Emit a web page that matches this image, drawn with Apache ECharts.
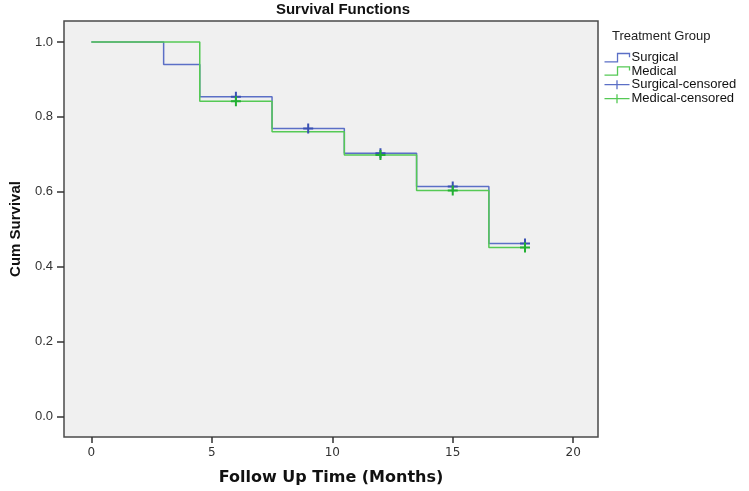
<!DOCTYPE html>
<html>
<head>
<meta charset="utf-8">
<script src="https://cdn.jsdelivr.net/npm/echarts@6/dist/echarts.min.js"></script>
<style>
html,body{margin:0;padding:0;background:#fff;}
#chart{width:749px;height:491px;}
</style>
</head>
<body>
<div id="chart"></div>
<script>
// Step data: [time, cumulative survival]
var surgicalTimes = [0, 3, 4.5, 7.5, 10.5, 13.5, 16.5, 18];
var surgicalSurv  = [1.0, 0.94, 0.854, 0.769, 0.703, 0.614, 0.462, 0.462];
var medicalTimes  = [0, 4.5, 7.5, 10.5, 13.5, 16.5, 18];
var medicalSurv   = [1.0, 0.842, 0.760, 0.698, 0.603, 0.451, 0.451];
var surgicalCensTimes = [6, 9, 12, 15, 18];
var surgicalCensSurv  = [0.854, 0.769, 0.703, 0.614, 0.462];
var medicalCensTimes  = [6, 12, 15, 18];
var medicalCensSurv   = [0.842, 0.698, 0.603, 0.451];
var xTicks = [0, 5, 10, 15, 20];
var yTicks = [0, 0.2, 0.4, 0.6, 0.8, 1.0];

function pairs(a, b) { return a.map(function (v, i) { return [v, b[i]]; }); }

var BLUE = '#5b6fc6', GREEN = '#55c955';
var BLUE_D = '#3a51b3', GREEN_D = '#22b032';
var stepIcon = 'path://M0,8L12.5,8L12.5,0L24,0L24,3.5';
var crossIcon = 'path://M0,4.5L25,4.5M12.5,0L12.5,9';
var crossSym = 'path://M0,5L10,5M5,0L5,10';

var chart = echarts.init(document.getElementById('chart'), null, {renderer: 'canvas'});
chart.setOption({
  animation: false,
  backgroundColor: '#ffffff',
  title: [{
    text: 'Survival Functions',
    left: 343, top: 2, textAlign: 'center', padding: 0,
    textStyle: {fontFamily: 'Liberation Sans', fontWeight: 'bold', fontSize: 15, color: '#111'}
  }, {
    text: 'Treatment Group',
    left: 612, top: 30, padding: 0,
    textStyle: {fontFamily: 'Liberation Sans', fontWeight: 'normal', fontSize: 13, color: '#222'}
  }],
  legend: {
    orient: 'vertical', left: 602, top: 51, padding: 0,
    itemWidth: 25, itemHeight: 9, itemGap: 0,
    textStyle: {fontFamily: 'Liberation Sans', fontSize: 13, color: '#111', padding: [0, 0, 0, -3]},
    data: [
      {name: 'Surgical', icon: stepIcon, itemStyle: {color: 'none', borderColor: BLUE, borderWidth: 1.3}},
      {name: 'Medical', icon: stepIcon, itemStyle: {color: 'none', borderColor: GREEN, borderWidth: 1.3}},
      {name: 'Surgical-censored', icon: crossIcon, itemStyle: {color: 'none', borderColor: BLUE, borderWidth: 1.3}},
      {name: 'Medical-censored', icon: crossIcon, itemStyle: {color: 'none', borderColor: GREEN, borderWidth: 1.3}}
    ]
  },
  grid: {
    left: 61.5, right: 151, top: 21, bottom: 49,
    show: true, backgroundColor: '#f0f0f0', borderColor: '#4a4a4a', borderWidth: 1.5
  },
  xAxis: {
    type: 'value', min: -1.136, max: 21.03,
    name: 'Follow Up Time (Months)', nameLocation: 'middle', nameGap: 33,
    nameTextStyle: {fontFamily: 'DejaVu Sans', fontWeight: 'bold', fontSize: 16, color: '#111'},
    axisLine: {show: false, onZero: false},
    axisTick: {show: true, length: 6, inside: false, customValues: xTicks, lineStyle: {color: '#333', width: 1.5}},
    axisLabel: {margin: 10, customValues: xTicks, fontFamily: 'DejaVu Sans', fontSize: 12, color: '#333'},
    splitLine: {show: false}
  },
  yAxis: {
    type: 'value', min: -0.055, max: 1.056,
    name: 'Cum Survival', nameLocation: 'middle', nameGap: 41,
    nameTextStyle: {fontFamily: 'Liberation Sans', fontWeight: 'bold', fontSize: 15, color: '#111'},
    axisLine: {show: false, onZero: false},
    axisTick: {show: true, length: 7, inside: false, customValues: yTicks, lineStyle: {color: '#333', width: 1.5}},
    axisLabel: {margin: 11, customValues: yTicks, fontFamily: 'Liberation Sans', fontSize: 13, color: '#333',
      formatter: function (v) { return v.toFixed(1); }},
    splitLine: {show: false}
  },
  series: [
    {name: 'Surgical', type: 'line', step: 'end', data: pairs(surgicalTimes, surgicalSurv),
     showSymbol: false, symbol: 'none', lineStyle: {color: BLUE, width: 1.5}, itemStyle: {color: BLUE}, z: 2},
    {name: 'Medical', type: 'line', step: 'end', data: pairs(medicalTimes, medicalSurv),
     showSymbol: false, symbol: 'none', lineStyle: {color: GREEN, width: 1.5}, itemStyle: {color: GREEN}, z: 3},
    {name: 'Surgical-censored', type: 'scatter', data: pairs(surgicalCensTimes, surgicalCensSurv),
     symbol: crossSym, symbolSize: 10, itemStyle: {color: 'none', borderColor: BLUE_D, borderWidth: 2, opacity: 1}, z: 4},
    {name: 'Medical-censored', type: 'scatter', data: pairs(medicalCensTimes, medicalCensSurv),
     symbol: crossSym, symbolSize: 10, itemStyle: {color: 'none', borderColor: GREEN_D, borderWidth: 2, opacity: 1}, z: 5}
  ]
});
</script>
</body>
</html>
